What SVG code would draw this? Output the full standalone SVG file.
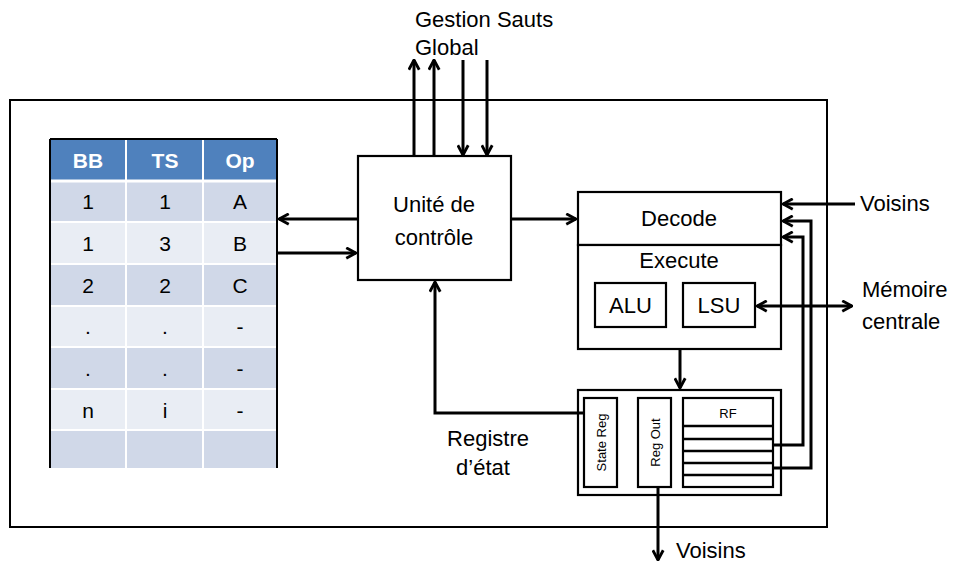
<svg xmlns="http://www.w3.org/2000/svg" width="960" height="563" viewBox="0 0 960 563">
<defs>
<marker id="ah" viewBox="0 0 10 10" markerWidth="13" markerHeight="13" refX="9" refY="5" orient="auto-start-reverse" markerUnits="userSpaceOnUse">
<path d="M1.5,1 L9,5 L1.5,9" fill="none" stroke="#000" stroke-width="2.2"/>
</marker>
<style>
text{font-family:"Liberation Sans",Arial,sans-serif;fill:#000}
.lbl{font-size:22px}
.cell{font-size:21px;text-anchor:middle}
.hdr{font-size:21px;text-anchor:middle;fill:#fff;font-weight:bold}
.box{fill:#fff;stroke:#000;stroke-width:2.2}
.sm{font-size:13px;text-anchor:middle}
.con{fill:none;stroke:#000;stroke-width:3}
.arr{marker-end:url(#ah)}
</style>
</defs>
<rect width="960" height="563" fill="#fff"/>
<rect id="frame" x="10" y="100" width="817" height="427" fill="none" stroke="#000" stroke-width="2"/>

<g id="table">
<rect x="50" y="140" width="227" height="40" fill="#4F81BD"/>
<rect x="50" y="180" width="227" height="42" fill="#D0D8E8"/>
<rect x="50" y="222" width="227" height="42" fill="#E9EDF4"/>
<rect x="50" y="264" width="227" height="42" fill="#D0D8E8"/>
<rect x="50" y="306" width="227" height="41" fill="#E9EDF4"/>
<rect x="50" y="347" width="227" height="42" fill="#D0D8E8"/>
<rect x="50" y="389" width="227" height="41" fill="#E9EDF4"/>
<rect x="50" y="430" width="227" height="38" fill="#D0D8E8"/>
<g stroke="#fff" stroke-width="2">
<line x1="126" y1="140" x2="126" y2="468"/>
<line x1="203" y1="140" x2="203" y2="468"/>
<line x1="50" y1="181" x2="277" y2="181" stroke-width="3"/>
<line x1="50" y1="222" x2="277" y2="222"/>
<line x1="50" y1="264" x2="277" y2="264"/>
<line x1="50" y1="306" x2="277" y2="306"/>
<line x1="50" y1="347" x2="277" y2="347"/>
<line x1="50" y1="389" x2="277" y2="389"/>
<line x1="50" y1="430" x2="277" y2="430"/>
</g>
<g stroke="#000" stroke-width="2">
<line x1="50" y1="139" x2="277" y2="139"/>
<line x1="50" y1="139" x2="50" y2="468"/>
<line x1="277" y1="139" x2="277" y2="468"/>
</g>
<text class="hdr" x="88" y="168">BB</text>
<text class="hdr" x="165" y="168">TS</text>
<text class="hdr" x="240" y="168">Op</text>
<text class="cell" x="88" y="209">1</text><text class="cell" x="165" y="209">1</text><text class="cell" x="240" y="209">A</text>
<text class="cell" x="88" y="251">1</text><text class="cell" x="165" y="251">3</text><text class="cell" x="240" y="251">B</text>
<text class="cell" x="88" y="293">2</text><text class="cell" x="165" y="293">2</text><text class="cell" x="240" y="293">C</text>
<text class="cell" x="88" y="334">.</text><text class="cell" x="165" y="334">.</text><text class="cell" x="240" y="334">-</text>
<text class="cell" x="88" y="376">.</text><text class="cell" x="165" y="376">.</text><text class="cell" x="240" y="376">-</text>
<text class="cell" x="88" y="418">n</text><text class="cell" x="165" y="418">i</text><text class="cell" x="240" y="418">-</text>
</g>

<g id="control">
<rect class="box" x="358" y="156" width="153" height="124"/>
<text class="lbl" x="434" y="212" text-anchor="middle">Unité de</text>
<text class="lbl" x="434" y="245" text-anchor="middle">contrôle</text>
</g>

<g id="decode">
<rect class="box" x="578" y="192" width="203" height="53"/>
<text class="lbl" x="679" y="226" text-anchor="middle">Decode</text>
</g>

<g id="execute">
<rect class="box" x="578" y="245" width="203" height="104"/>
<text class="lbl" x="679" y="268" text-anchor="middle">Execute</text>
</g>
<g id="alu">
<rect class="box" x="595" y="283" width="71" height="44"/>
<text class="lbl" x="630.5" y="313" text-anchor="middle">ALU</text>
</g>
<g id="lsu">
<rect class="box" x="683" y="283" width="72" height="44"/>
<text class="lbl" x="719" y="313" text-anchor="middle">LSU</text>
</g>

<g id="regs">
<rect class="box" x="578" y="390" width="203" height="105"/>
</g>
<g id="statereg">
<rect class="box" x="584" y="398" width="33" height="89"/>
<text class="sm" transform="translate(605.5,442.5) rotate(-90)">State Reg</text>
</g>
<g id="regout">
<rect class="box" x="638" y="398" width="33" height="89"/>
<text class="sm" transform="translate(659.5,442.5) rotate(-90)">Reg Out</text>
</g>
<g id="rf">
<rect class="box" x="683" y="398" width="90" height="89"/>
<g stroke="#000" stroke-width="2.5">
<line x1="683" y1="426" x2="773" y2="426"/>
<line x1="683" y1="439" x2="773" y2="439"/>
<line x1="683" y1="451" x2="773" y2="451"/>
<line x1="683" y1="463" x2="773" y2="463"/>
<line x1="683" y1="475" x2="773" y2="475"/>
</g>
<text class="sm" x="728" y="418">RF</text>
</g>

<g id="connectors">
<line class="con arr" x1="357" y1="219" x2="279" y2="219"/>
<line class="con arr" x1="278" y1="253" x2="356" y2="253"/>
<line class="con arr" x1="512" y1="219" x2="576" y2="219"/>
<line class="con arr" x1="414" y1="156" x2="414" y2="60"/>
<line class="con arr" x1="434" y1="156" x2="434" y2="60"/>
<line class="con arr" x1="463" y1="60" x2="463" y2="155"/>
<line class="con arr" x1="487" y1="60" x2="487" y2="155"/>
<line class="con arr" x1="855" y1="204" x2="783" y2="204"/>
<polyline class="con arr" points="773,445 803,445 803,237 783,237"/>
<polyline class="con arr" points="773,468 811,468 811,221 783,221"/>
<line class="con" x1="757" y1="306" x2="852" y2="306" marker-start="url(#ah)" marker-end="url(#ah)"/>
<line class="con arr" x1="680" y1="350" x2="680" y2="388"/>
<polyline class="con arr" points="584,413 435,413 435,282"/>
<line class="con arr" x1="658" y1="488" x2="658" y2="560"/>
</g>

<g id="labels">
<text class="lbl" x="415" y="27">Gestion Sauts</text>
<text class="lbl" x="415" y="55">Global</text>
<text class="lbl" x="860" y="211">Voisins</text>
<text class="lbl" x="862" y="297">Mémoire</text>
<text class="lbl" x="862" y="329">centrale</text>
<text class="lbl" x="488" y="446" text-anchor="middle">Registre</text>
<text class="lbl" x="483" y="475" text-anchor="middle">d’état</text>
<text class="lbl" x="676" y="558">Voisins</text>
</g>
</svg>
